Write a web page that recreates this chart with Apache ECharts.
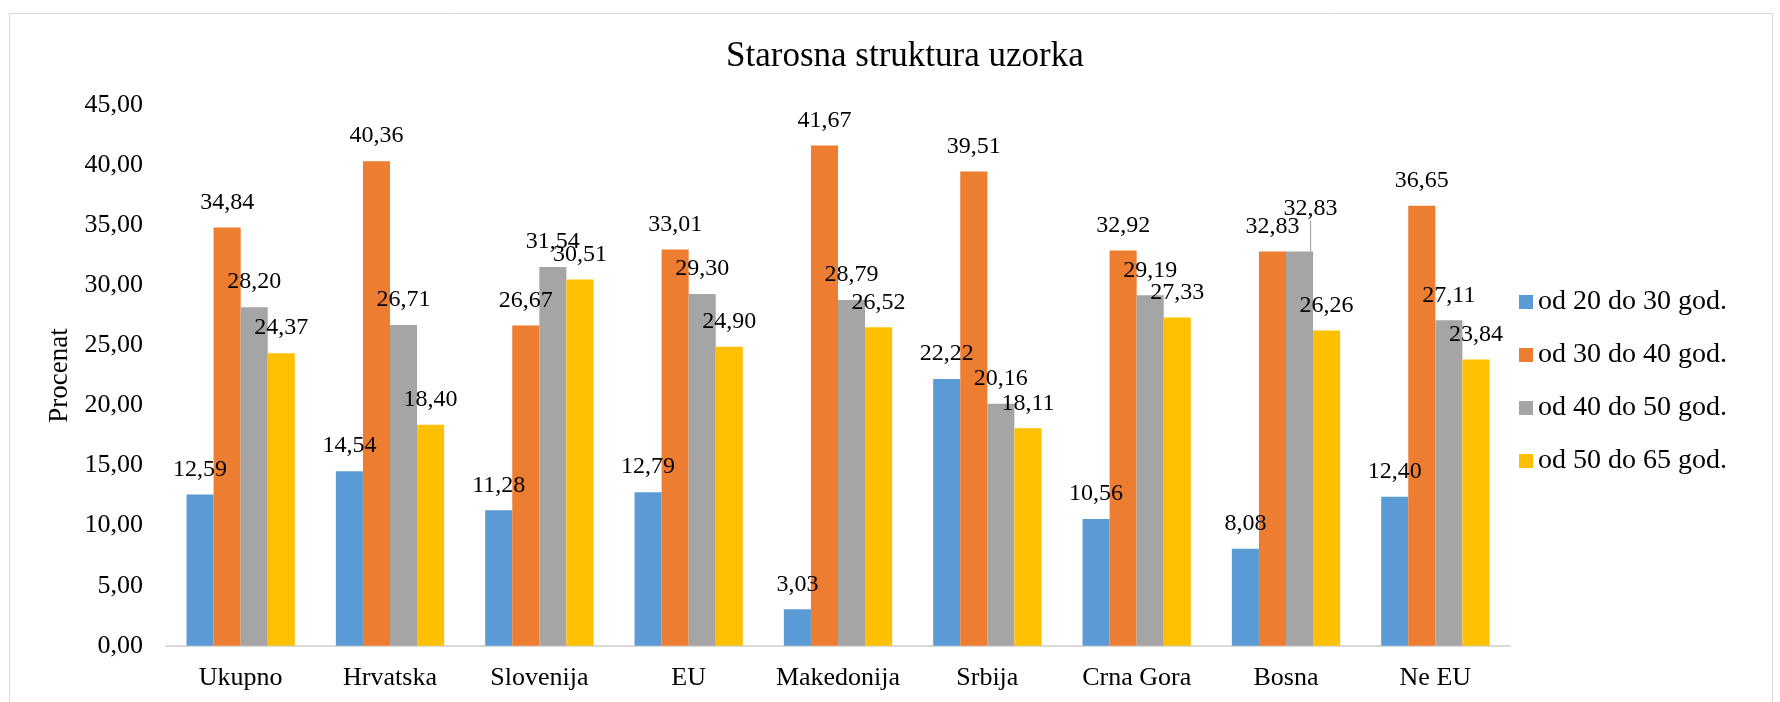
<!DOCTYPE html>
<html>
<head>
<meta charset="utf-8">
<script src="https://cdn.jsdelivr.net/npm/echarts@6/dist/echarts.min.js"></script>
<style>
  html, body { margin: 0; padding: 0; background: #fff; }
  #chart { width: 1780px; height: 702px; }
</style>
</head>
<body>
<div id="chart"></div>
<script>
// podaci sa grafikona
var categories = ['Ukupno', 'Hrvatska', 'Slovenija', 'EU', 'Makedonija', 'Srbija', 'Crna Gora', 'Bosna', 'Ne EU'];
var seriesNames = ['od 20 do 30 god.', 'od 30 do 40 god.', 'od 40 do 50 god.', 'od 50 do 65 god.'];
var od20do30 = [12.59, 14.54, 11.28, 12.79, 3.03, 22.22, 10.56, 8.08, 12.40];
var od30do40 = [34.84, 40.36, 26.67, 33.01, 41.67, 39.51, 32.92, 32.83, 36.65];
var od40do50 = [28.20, 26.71, 31.54, 29.30, 28.79, 20.16, 29.19, 32.83, 27.11];
var od50do65 = [24.37, 18.40, 30.51, 24.90, 26.52, 18.11, 27.33, 26.26, 23.84];
var colors = ['#5B9BD5', '#ED7D31', '#A5A5A5', '#FFC000'];

var font = "'Liberation Serif', 'Times New Roman', serif";

function zarez(v) {
  return Number(v).toFixed(2).replace('.', ',');
}

var myChart = echarts.init(document.getElementById('chart'));

function napraviSeriju(ime, vrednosti, idx) {
  return {
    name: ime,
    type: 'bar',
    barGap: '0%',
    barCategoryGap: '27.5%',
    itemStyle: { color: colors[idx] },
    label: {
      show: true,
      position: 'top',
      distance: 13,
      color: '#000',
      fontFamily: font,
      fontSize: 24,
      formatter: function (p) { return zarez(p.value); }
    },
    labelLine: { show: false },
    data: vrednosti.map(function (v, i) {
      // pomerena oznaka za Bosnu (40-50) sa linijom
      if (idx === 2 && i === 7) {
        return { value: v, labelLine: { show: true, lineStyle: { color: '#A5A5A5', width: 1.2 } } };
      }
      return v;
    })
  };
}

var option = {
  backgroundColor: '#fff',
  animation: false,
  title: {
    text: 'Starosna struktura uzorka',
    left: 721,
    top: 34,
    textStyle: { fontFamily: font, fontSize: 35, fontWeight: 'normal', color: '#000' }
  },
  legend: {
    orient: 'vertical',
    left: 1514,
    top: 283,
    itemWidth: 14,
    itemHeight: 14,
    itemGap: 25,
    icon: 'rect',
    data: seriesNames,
    textStyle: { fontFamily: font, fontSize: 28, color: '#000' }
  },
  grid: { left: 166, right: 270, top: 105.5, bottom: 56.3, containLabel: false },
  xAxis: {
    type: 'category',
    data: categories,
    axisLine: { lineStyle: { color: '#D9D9D9', width: 2 } },
    axisTick: { show: false },
    axisLabel: { interval: 0, fontFamily: font, fontSize: 26, color: '#000', margin: 19 },
    splitLine: { show: false }
  },
  yAxis: {
    type: 'value',
    min: 0,
    max: 45,
    interval: 5,
    name: 'Procenat',
    nameLocation: 'middle',
    nameGap: 90,
    nameTextStyle: { fontFamily: font, fontSize: 27, color: '#000' },
    axisLine: { show: false },
    axisTick: { show: false },
    splitLine: { show: false },
    axisLabel: {
      fontFamily: font, fontSize: 26, color: '#000', margin: 23,
      formatter: function (v) { return zarez(v); }
    }
  },
  labelLayout: function (p) {
    if (p.seriesIndex === 2 && p.dataIndex === 7) {
      return { dx: 11, dy: -18 };
    }
  },
  graphic: [{
    type: 'rect',
    silent: true,
    z: -1,
    shape: { x: 9.5, y: 13.5, width: 1763, height: 700 },
    style: { fill: 'none', stroke: '#D9D9D9', lineWidth: 1 }
  }],
  series: [
    napraviSeriju(seriesNames[0], od20do30, 0),
    napraviSeriju(seriesNames[1], od30do40, 1),
    napraviSeriju(seriesNames[2], od40do50, 2),
    napraviSeriju(seriesNames[3], od50do65, 3)
  ]
};

myChart.setOption(option);
</script>
</body>
</html>
